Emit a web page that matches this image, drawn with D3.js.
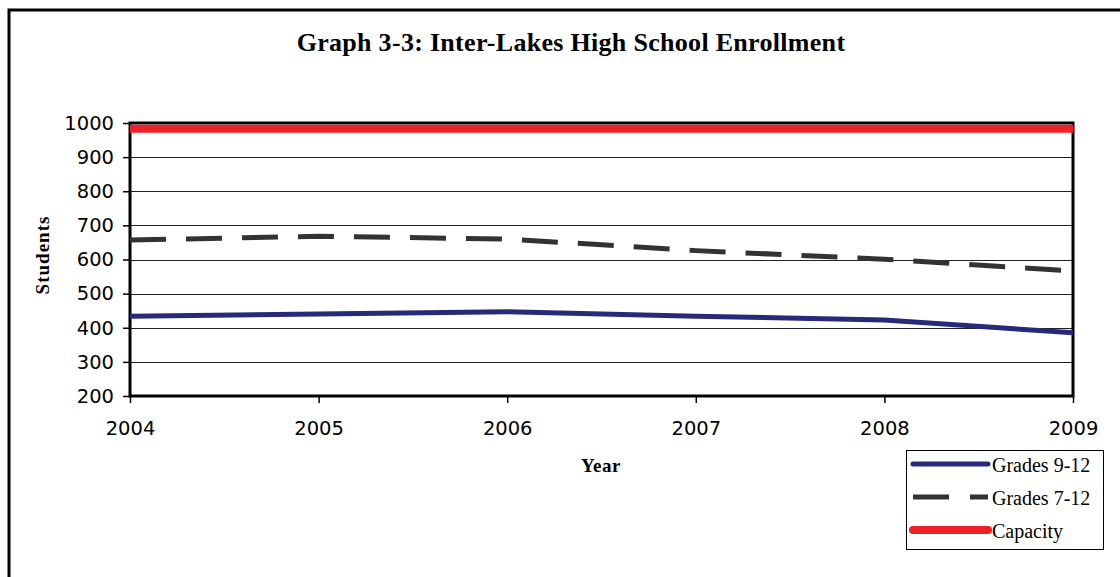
<!DOCTYPE html>
<html>
<head>
<meta charset="utf-8">
<script src="https://cdn.jsdelivr.net/npm/d3@7"></script>
<style>
  body { margin: 0; background: #fff; }
  svg { display: block; }
</style>
</head>
<body>
<div id="chart"></div>
<script>
// data
var years = [2004, 2005, 2006, 2007, 2008, 2009];
var grades912 = [434, 440, 447, 434, 423, 385];
var grades712 = [657, 668, 660, 626, 601, 566];
var capacity = [983, 983, 983, 983, 983, 983];
var yTicks = [200, 300, 400, 500, 600, 700, 800, 900, 1000];
var legendLabels = ["Grades 9-12", "Grades 7-12", "Capacity"];

var svgWidth = 1120;
var svgHeight = 577;

var margin = { top: 123, right: 47, bottom: 181, left: 130 };
var width = svgWidth - margin.left - margin.right;
var height = svgHeight - margin.top - margin.bottom;

var svg = d3.select("#chart")
    .append("svg")
    .attr("width", svgWidth)
    .attr("height", svgHeight);

// outer frame (runs off the right and bottom)
svg.append("rect")
    .attr("x", 9)
    .attr("y", 10)
    .attr("width", 1130)
    .attr("height", 600)
    .attr("fill", "none")
    .attr("stroke", "#000")
    .attr("stroke-width", 3);

svg.append("text")
    .attr("x", 571)
    .attr("y", 51)
    .attr("text-anchor", "middle")
    .attr("font-family", "Liberation Serif, serif")
    .attr("font-weight", "bold")
    .attr("font-size", "26px")
    .attr("letter-spacing", "0.3px")
    .text("Graph 3-3: Inter-Lakes High School Enrollment");

var chartGroup = svg.append("g")
    .attr("transform", `translate(${margin.left},${margin.top})`);

var x = d3.scaleLinear()
    .domain([d3.min(years), d3.max(years)])
    .range([0, width]);

var y = d3.scaleLinear()
    .domain([200, 1000])
    .range([height, 0]);

// gridlines
chartGroup.append("g")
    .selectAll("line")
    .data(yTicks)
    .enter()
    .append("line")
    .attr("x1", 0)
    .attr("x2", width)
    .attr("y1", d => Math.round(y(d)) + 0.5)
    .attr("y2", d => Math.round(y(d)) + 0.5)
    .attr("stroke", "#222")
    .attr("stroke-width", 1);

// axes
var leftAxis = d3.axisLeft(y)
    .tickValues(yTicks)
    .tickSize(7)
    .tickPadding(9)
    .tickFormat(d3.format("d"));

var bottomAxis = d3.axisBottom(x)
    .tickValues(years)
    .tickSize(7)
    .tickPadding(18)
    .tickFormat(d3.format("d"));

var yAxis = chartGroup.append("g").call(leftAxis);
var xAxis = chartGroup.append("g")
    .attr("transform", `translate(0,${height})`)
    .call(bottomAxis);

[xAxis, yAxis].forEach(function(a) {
    a.select(".domain").remove();
    a.selectAll(".tick line").attr("stroke", "#000").attr("stroke-width", 1.5);
    a.selectAll("text")
        .attr("font-family", "DejaVu Sans, sans-serif")
        .attr("font-size", "19.5px")
        .attr("fill", "#000");
});

// plot area border
chartGroup.append("rect")
    .attr("x", 0)
    .attr("y", 0)
    .attr("width", width)
    .attr("height", height)
    .attr("fill", "none")
    .attr("stroke", "#000")
    .attr("stroke-width", 3);

var line = d3.line()
    .x((d, i) => x(years[i]))
    .y(d => y(d));

var series = [
    { values: capacity, color: "#ee2129", width: 8, dash: null },
    { values: grades712, color: "#333333", width: 5, dash: "36,20" },
    { values: grades912, color: "#262a78", width: 5, dash: null }
];

series.forEach(function(s) {
    chartGroup.append("path")
        .datum(s.values)
        .attr("d", line)
        .attr("fill", "none")
        .attr("stroke", s.color)
        .attr("stroke-width", s.width)
        .attr("stroke-dasharray", s.dash);
});

// axis titles
svg.append("text")
    .attr("transform", "translate(49,255) rotate(-90)")
    .attr("text-anchor", "middle")
    .attr("font-family", "Liberation Serif, serif")
    .attr("font-weight", "bold")
    .attr("font-size", "19px")
    .attr("letter-spacing", "1px")
    .text("Students");

svg.append("text")
    .attr("x", 601)
    .attr("y", 472)
    .attr("text-anchor", "middle")
    .attr("font-family", "Liberation Serif, serif")
    .attr("font-weight", "bold")
    .attr("font-size", "19px")
    .attr("letter-spacing", "0.5px")
    .text("Year");

// legend
var legend = svg.append("g").attr("transform", "translate(906,450)");
legend.append("rect")
    .attr("x", 0.5)
    .attr("y", 0.5)
    .attr("width", 197)
    .attr("height", 99)
    .attr("fill", "#fff")
    .attr("stroke", "#000")
    .attr("stroke-width", 1);

var legendStyles = [
    { color: "#262a78", width: 5, dash: null, cap: "round" },
    { color: "#333333", width: 5, dash: "36,21", cap: "butt" },
    { color: "#ee2129", width: 8, dash: null, cap: "round" }
];

legendLabels.forEach(function(label, i) {
    var yy = 14 + i * 33;
    var st = legendStyles[i];
    legend.append("line")
        .attr("x1", 7)
        .attr("x2", 82)
        .attr("y1", yy)
        .attr("y2", yy)
        .attr("stroke", st.color)
        .attr("stroke-width", st.width)
        .attr("stroke-linecap", st.cap)
        .attr("stroke-dasharray", st.dash);
    legend.append("text")
        .attr("x", 86)
        .attr("y", yy + 8)
        .attr("font-family", "Liberation Serif, serif")
        .attr("font-size", "20px")
        .text(label);
});
</script>
</body>
</html>
